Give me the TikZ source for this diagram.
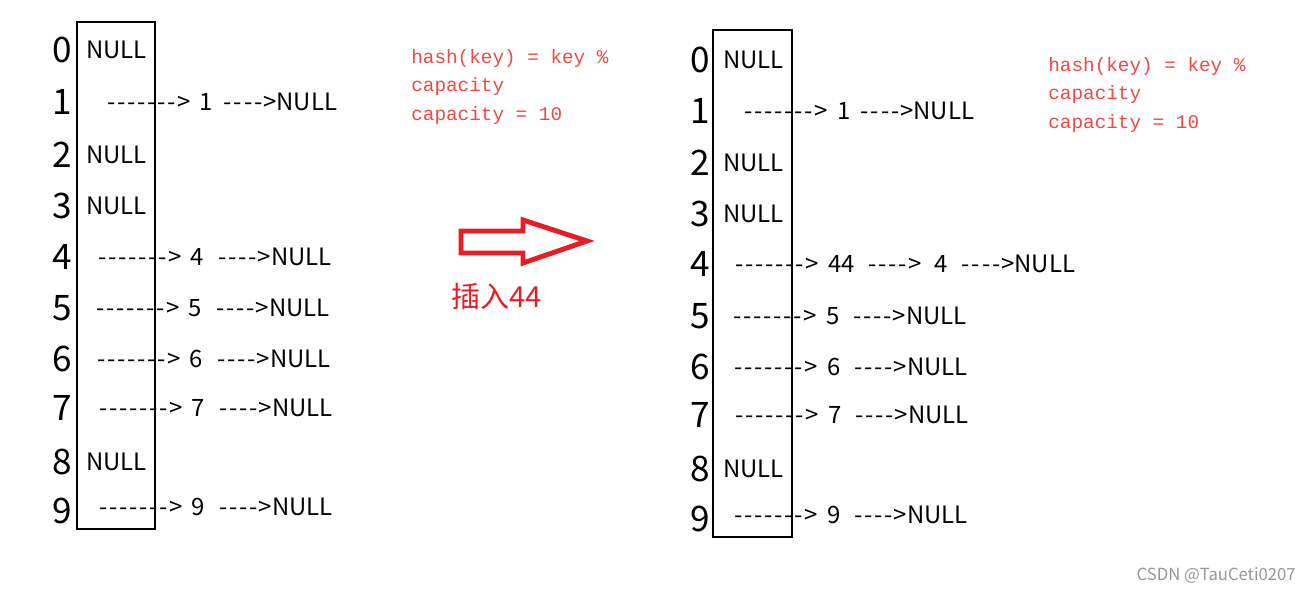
\documentclass[tikz,border=0pt]{standalone}
\usepackage{fontspec}
\setmainfont[Ligatures=TeXOff]{Noto Sans CJK SC}
\newfontfamily\codefont{Liberation Mono}

\definecolor{notered}{RGB}{238,72,72}
\definecolor{arrowred}{RGB}{232,28,36}
\definecolor{markgray}{RGB}{150,150,150}

% a run of typed dashes ending in >, and the gaps between the pieces
\newcommand\dashto[1]{\foreach \k in {1,...,#1}{\makebox[5.75pt]{-}}>}
\newcommand\wgap{\hspace{5.5pt}}
\newcommand\wwgap{\hspace{7.5pt}}

\tikzset{
    idx/.style={inner sep=0pt, font=\fontsize{20}{24}\selectfont},
    slot/.style={anchor=west, inner sep=0pt, font=\fontsize{13.6}{16}\selectfont},
    hashnote/.style={anchor=west, inner sep=0pt, align=left, text=notered,
        font=\codefont\fontsize{11}{16.4}\selectfont},
}

\begin{document}
\begin{tikzpicture}[x=0.02cm, y=-0.02cm]
    \useasboundingbox (0,0) rectangle (1311,590);

    % Table before insertion
    \draw[line width=0.6pt] (77,22) rectangle (155,529);
    \node[idx] (a0) at (62,50) {0};
    \node[idx] (a1) at (62,102) {1};
    \node[idx] (a2) at (62,155) {2};
    \node[idx] (a3) at (62,206) {3};
    \node[idx] (a4) at (62,257) {4};
    \node[idx] (a5) at (62,308) {5};
    \node[idx] (a6) at (62,359) {6};
    \node[idx] (a7) at (62,408) {7};
    \node[idx] (a8) at (62,462) {8};
    \node[idx] (a9) at (62,511) {9};

    % Buckets before insertion
    \node[slot] (s0) at (86,50) {NULL};
    \node[slot] (s1) at (106,102) {\dashto{7}\wgap 1\wgap\dashto{4}NULL};
    \node[slot] (s2) at (86,155) {NULL};
    \node[slot] (s3) at (86,206) {NULL};
    \node[slot] (s4) at (97,257) {\dashto{7}\wgap 4\wwgap\dashto{4}NULL};
    \node[slot] (s5) at (95,308) {\dashto{7}\wgap 5\wwgap\dashto{4}NULL};
    \node[slot] (s6) at (96,359) {\dashto{7}\wgap 6\wwgap\dashto{4}NULL};
    \node[slot] (s7) at (98,408) {\dashto{7}\wgap 7\wwgap\dashto{4}NULL};
    \node[slot] (s8) at (86,462) {NULL};
    \node[slot] (s9) at (98,507) {\dashto{7}\wgap 9\wwgap\dashto{4}NULL};

    % Hash function note
    \node[hashnote] (h1) at (411,87) {hash(key) = key \%\\capacity\\capacity = 10};

    % Insertion arrow
    \draw[arrowred, line width=2.8pt, line join=miter]
        (461,231) -- (523,231) -- (523,220) -- (587,241) -- (523,263)
        -- (523,253) -- (461,253) -- cycle;
    \node[text=arrowred, inner sep=0pt, font=\fontsize{16.5}{20}\selectfont]
        (ins) at (497,297) {插入44};

    % Table after insertion
    \draw[line width=0.6pt] (713,30) rectangle (792,537);
    \node[idx] (b0) at (700,60) {0};
    \node[idx] (b1) at (700,111) {1};
    \node[idx] (b2) at (700,163) {2};
    \node[idx] (b3) at (700,214) {3};
    \node[idx] (b4) at (700,264) {4};
    \node[idx] (b5) at (700,316) {5};
    \node[idx] (b6) at (700,367) {6};
    \node[idx] (b7) at (700,415) {7};
    \node[idx] (b8) at (700,469) {8};
    \node[idx] (b9) at (700,519) {9};

    % Buckets after insertion
    \node[slot] (t0) at (723,60) {NULL};
    \node[slot] (t1) at (743,111) {\dashto{7}\wgap 1\wgap\dashto{4}NULL};
    \node[slot] (t2) at (723,163) {NULL};
    \node[slot] (t3) at (723,214) {NULL};
    \node[slot] (t4) at (734,264)
        {\dashto{7}\wgap 44\wwgap\dashto{4}\wwgap 4\wwgap\dashto{4}NULL};
    \node[slot] (t5) at (732,316) {\dashto{7}\wgap 5\wwgap\dashto{4}NULL};
    \node[slot] (t6) at (733,367) {\dashto{7}\wgap 6\wwgap\dashto{4}NULL};
    \node[slot] (t7) at (734,415) {\dashto{7}\wgap 7\wwgap\dashto{4}NULL};
    \node[slot] (t8) at (723,469) {NULL};
    \node[slot] (t9) at (733,515) {\dashto{7}\wgap 9\wwgap\dashto{4}NULL};

    \node[hashnote] (h2) at (1048,95) {hash(key) = key \%\\capacity\\capacity = 10};

    % Watermark
    \node[anchor=east, inner sep=0pt, text=markgray, font=\fontsize{9.5}{11}\selectfont]
        (wm) at (1296,575) {CSDN @TauCeti0207};
\end{tikzpicture}
\end{document}
